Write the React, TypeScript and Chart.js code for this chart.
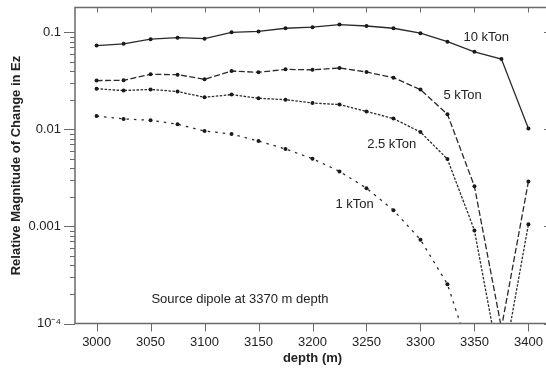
import React, { useEffect, useRef } from "react";
import { Chart, registerables } from "chart.js";

Chart.register(...registerables);

const depths = [3000, 3025, 3050, 3075, 3100, 3125, 3150, 3175, 3200, 3225, 3250, 3275, 3300, 3325, 3350, 3375, 3400];

const kton10 = [0.073, 0.076, 0.085, 0.088, 0.086, 0.1, 0.102, 0.11, 0.113, 0.12, 0.116, 0.11, 0.098, 0.08, 0.063, 0.053, 0.0102];
const kton5 = [0.0318, 0.032, 0.0369, 0.0366, 0.0328, 0.0399, 0.0387, 0.0415, 0.041, 0.0429, 0.039, 0.0341, 0.0257, 0.0143, 0.00259, 0.00009, 0.0029];
const kton2_5 = [0.0262, 0.0251, 0.0258, 0.0245, 0.0214, 0.0228, 0.0209, 0.0202, 0.0187, 0.018, 0.0153, 0.0129, 0.00938, 0.00494, 0.00091, 0.00003, 0.00105];
const kton1 = [0.0137, 0.0128, 0.0124, 0.0113, 0.0096, 0.00896, 0.00758, 0.00627, 0.00499, 0.00369, 0.00248, 0.00147, 0.00073, 0.000254, 0.000036, null, null];

const seriesNames = ["10 kTon", "5 kTon", "2.5 kTon", "1 kTon"];
const seriesData = [kton10, kton5, kton2_5, kton1];
const seriesDash = [[], [6, 2.5], [2.5, 1.5], [2.5, 5]];

const xTicks = [3000, 3050, 3100, 3150, 3200, 3250, 3300, 3350, 3400];

const noteTexts = ["10 kTon", "5 kTon", "2.5 kTon", "1 kTon", "Source dipole at 3370 m depth"];
const noteX = [3361, 3339, 3273.4, 3239, 3132.8];
const noteY = [0.0887, 0.0222, 0.00703, 0.0017, 0.000176];

const FONT = "'Liberation Sans', Arial, Helvetica, sans-serif";
const INK = "#222";
const FRAME = "#6a6a6a";

function isPow10(v: number) {
  const l = Math.log10(v);
  return Math.abs(l - Math.round(l)) < 1e-6;
}
function isIntMantissa(v: number) {
  const e = Math.floor(Math.log10(v) + 1e-9);
  const m = v / Math.pow(10, e);
  return Math.abs(m - Math.round(m)) < 1e-6;
}
function yLabel(v: number) {
  if (!isPow10(v)) return "";
  const e = Math.round(Math.log10(v));
  if (e === -1) return "0.1";
  if (e === -2) return "0.01";
  if (e === -3) return "0.001";
  if (e === -4) return "10\u207B\u2074";
  return "";
}

const framePlugin = {
  id: "frameTicks",
  afterDraw(chart: any) {
    const { ctx, chartArea } = chart;
    const { left, right, top, bottom } = chartArea;
    const xs = chart.scales.x;
    const ys = chart.scales.y;
    ctx.save();
    ctx.strokeStyle = FRAME;
    ctx.lineWidth = 1;
    ys.ticks.forEach((t: any) => {
      if (!isIntMantissa(t.value)) return;
      const py = Math.round(ys.getPixelForValue(t.value)) + 0.5;
      const major = isPow10(t.value);
      ctx.beginPath();
      ctx.moveTo(left - (major ? 11 : 5), py);
      ctx.lineTo(left, py);
      ctx.moveTo(right, py);
      ctx.lineTo(right - (major ? 6 : 4), py);
      ctx.stroke();
    });
    xTicks.forEach((v) => {
      const px = Math.round(xs.getPixelForValue(v)) + 0.5;
      ctx.beginPath();
      ctx.moveTo(px, bottom);
      ctx.lineTo(px, bottom + 8);
      ctx.moveTo(px, top);
      ctx.lineTo(px, top + 5);
      ctx.stroke();
    });
    ctx.lineWidth = 1.5;
    ctx.strokeRect(left, top, right - left, bottom - top);
    ctx.fillStyle = INK;
    ctx.font = `13px ${FONT}`;
    ctx.textAlign = "center";
    ctx.textBaseline = "middle";
    noteTexts.forEach((s, i) => {
      ctx.fillText(s, xs.getPixelForValue(noteX[i]), ys.getPixelForValue(noteY[i]));
    });
    ctx.restore();
  },
};

export default function App() {
  const ref = useRef<HTMLCanvasElement>(null);
  useEffect(() => {
    if (!ref.current) return;
    const chart = new Chart(ref.current, {
      type: "line",
      data: {
        datasets: seriesNames.map((name, i) => ({
          label: name,
          data: depths.map((d, j) => ({ x: d, y: seriesData[i][j] })),
          borderColor: "#2a2a2a",
          backgroundColor: "#2a2a2a",
          borderWidth: 1.3,
          borderDash: seriesDash[i],
          pointRadius: 2,
          pointBorderWidth: 0,
          pointBackgroundColor: "#1a1a1a",
          tension: 0,
          spanGaps: false,
          clip: 0,
          fill: false,
        })),
      },
      options: {
        responsive: false,
        animation: false,
        devicePixelRatio: 1,
        layout: { padding: { top: 7.5, right: 10, left: 0, bottom: 0 } },
        plugins: { legend: { display: false }, tooltip: { enabled: false } },
        scales: {
          x: {
            type: "linear",
            min: 2980,
            max: 3420,
            afterFit: (s: any) => { s.height = 45.5; s.paddingLeft = 0; s.paddingRight = 0; },
            afterBuildTicks: (s: any) => { s.ticks = xTicks.map((v) => ({ value: v })); },
            grid: { display: false, drawTicks: false },
            border: { display: false },
            ticks: {
              includeBounds: false,
              padding: 11,
              color: INK,
              font: { family: FONT, size: 13 },
              maxRotation: 0,
              callback: (v: any) => String(v),
            },
            title: {
              display: true,
              text: "depth (m)",
              color: INK,
              font: { family: FONT, size: 13, weight: "bold" },
              padding: { top: 0, bottom: 3 },
            },
          },
          y: {
            type: "logarithmic",
            min: 0.0001,
            max: 0.18,
            afterFit: (s: any) => { s.width = 75; s.paddingTop = 0; s.paddingBottom = 0; },
            grid: { display: false, drawTicks: false },
            border: { display: false },
            ticks: {
              autoSkip: false,
              padding: 14,
              color: INK,
              font: { family: FONT, size: 13 },
              callback: (v: any) => yLabel(Number(v)),
            },
            title: {
              display: true,
              text: "Relative Magnitude of Change in Ez",
              color: INK,
              font: { family: FONT, size: 13, weight: "bold" },
              padding: { top: 9, bottom: 0 },
            },
          },
        },
      },
      plugins: [framePlugin],
    } as any);
    return () => chart.destroy();
  }, []);
  return (
    <div style={{ position: "fixed", left: 0, top: 0, width: 546, height: 369, overflow: "hidden", background: "#fff" }}>
      <canvas ref={ref} width={560} height={369} style={{ width: 560, height: 369, display: "block" }} />
    </div>
  );
}
